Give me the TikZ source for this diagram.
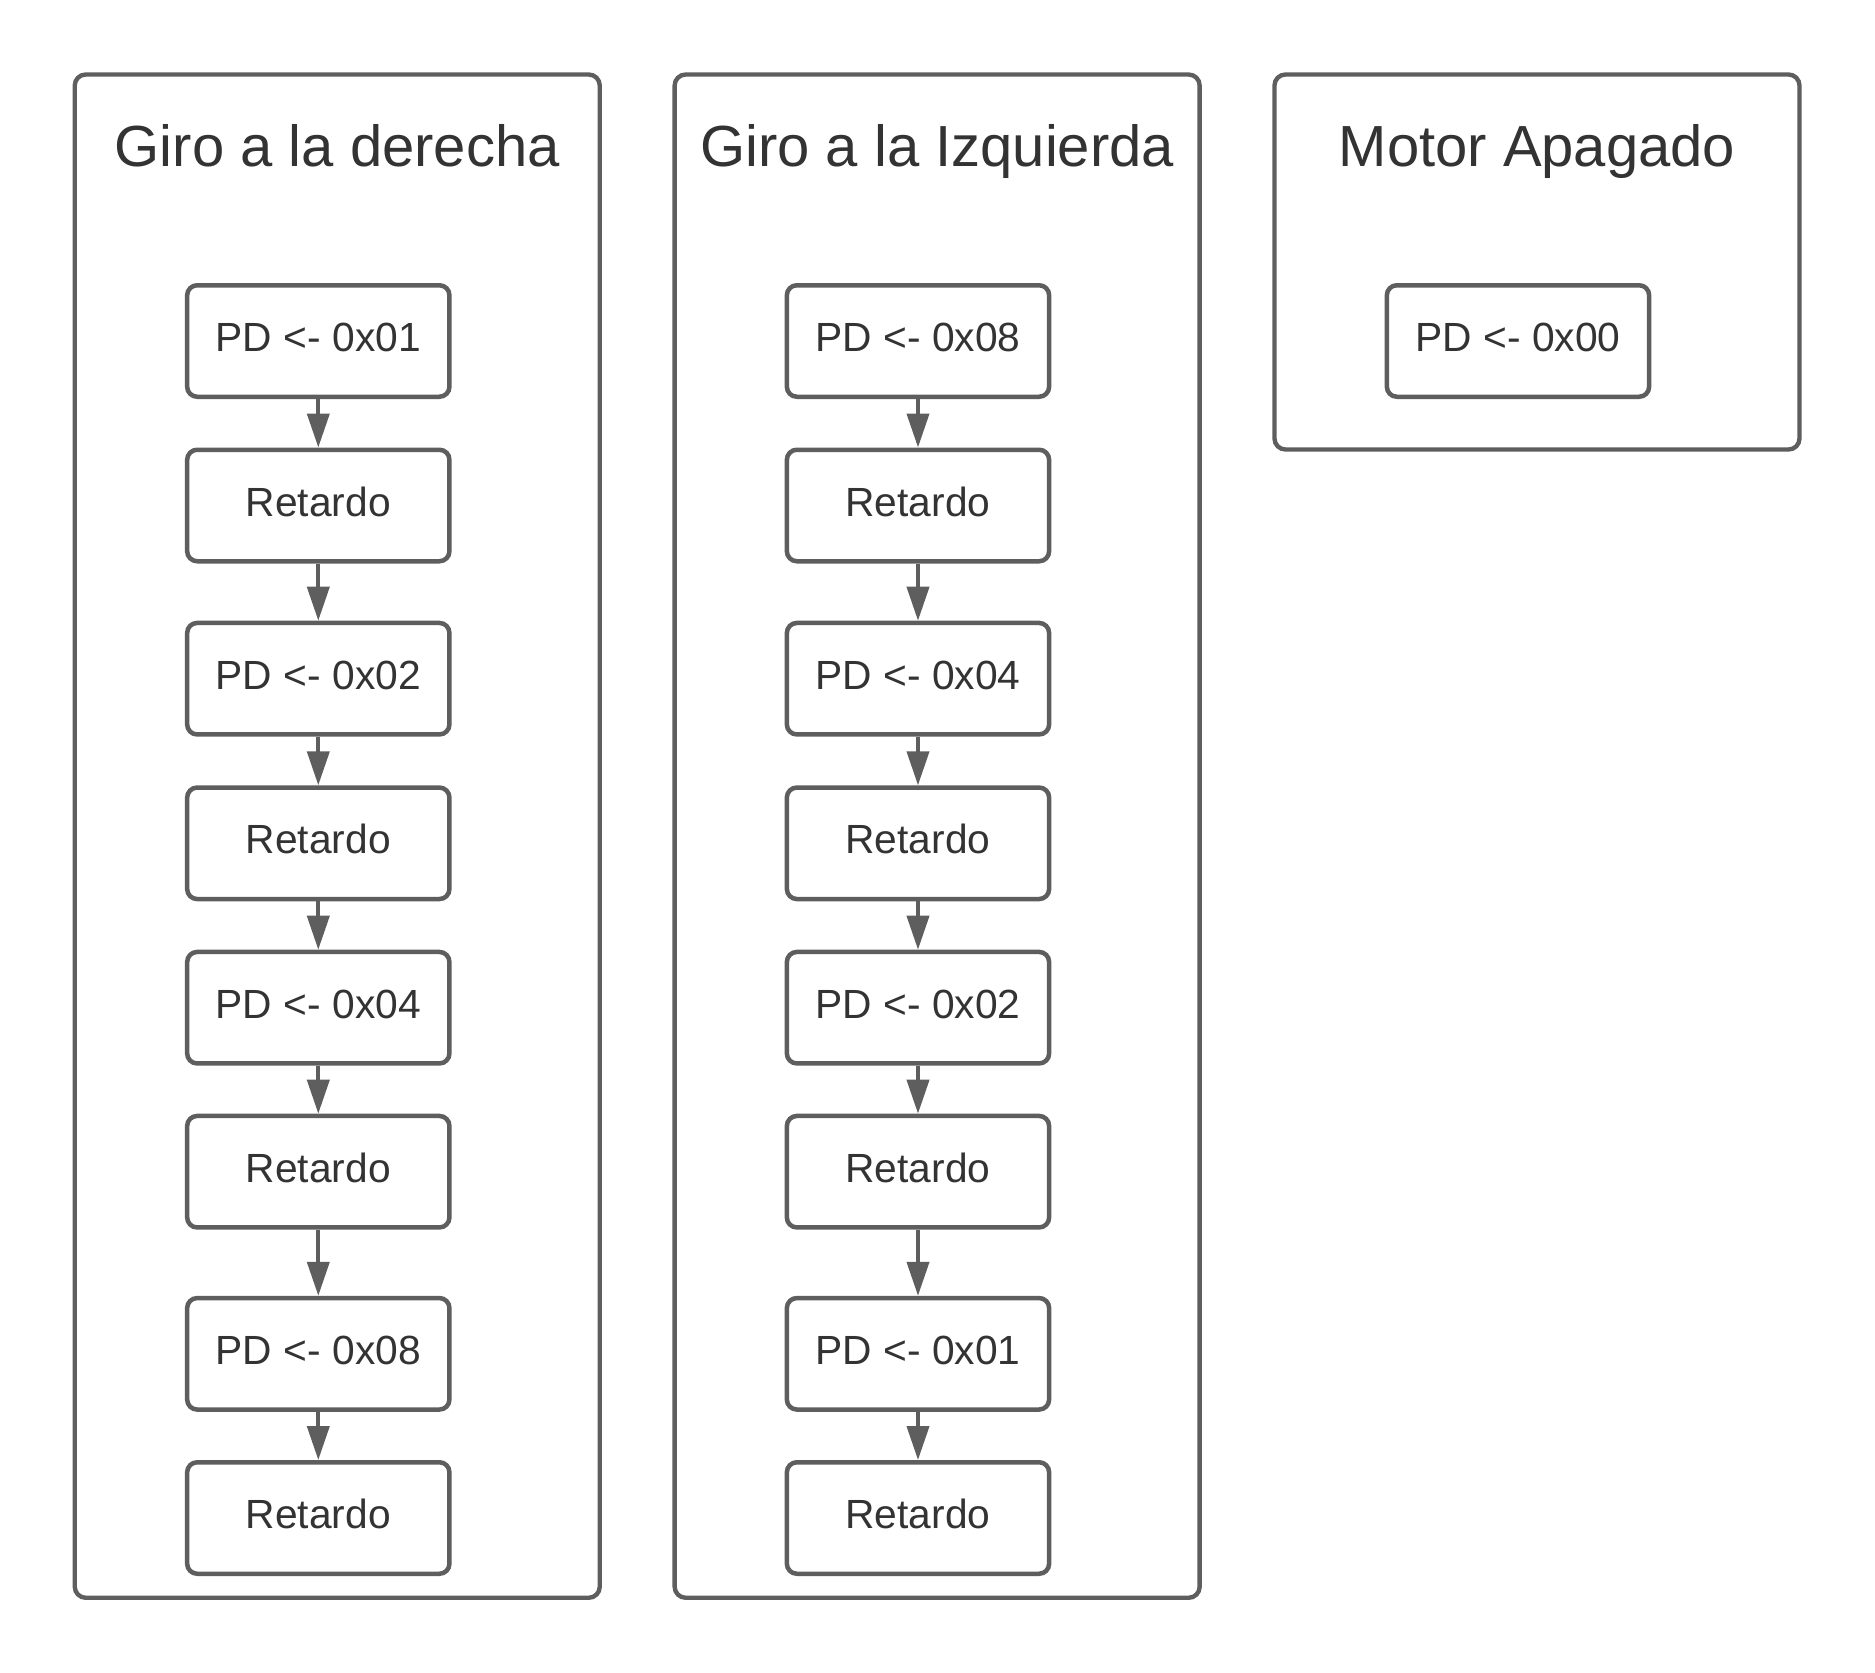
\documentclass[tikz,border=0pt]{standalone}
\usepackage{fontspec}
\setmainfont{Liberation Sans}
\usetikzlibrary{arrows.meta}
\definecolor{linegray}{HTML}{5E5E5E}
\definecolor{textgray}{HTML}{333333}
\tikzset{
  container/.style={draw=linegray, line width=1.75pt, rounded corners=4.4pt,
    minimum width=210pt, inner sep=0pt, fill=white},
  stepbox/.style={draw=linegray, line width=1.8pt, rounded corners=4pt,
    minimum width=104.9pt, minimum height=44.6pt, inner sep=0pt,
    text=textgray, font=\fontsize{16.3pt}{19pt}\selectfont,
    text height=12pt, text depth=3.6pt, fill=white},
  title/.style={anchor=base, inner sep=0pt, text=textgray,
    font=\fontsize{23.2pt}{28pt}\selectfont},
  arr/.style={draw=linegray, line width=1.6pt,
    -{Triangle[length=13.6pt, width=8.8pt]}},
}
\begin{document}
\begin{tikzpicture}[x=0.4pt, y=-0.4pt]
\useasboundingbox (0,0) rectangle (1875,1673);
% containers
\node[container, minimum height=609.3pt] (c1) at (337.25,836.15) {};
\node[container, minimum height=609.3pt] (c2) at (937.15,836.15) {};
\node[container, minimum height=150pt] (c3) at (1537,262) {};
% titles
\node[title] (t1) at (337.25,166) {Giro a la derecha};
\node[title] (t2) at (937.15,166) {Giro a la Izquierda};
\node[title] (t3) at (1537,166) {Motor Apagado};
% column 1
\node[stepbox] (a1) at (318.3,341)    {PD <- 0x01};
\node[stepbox] (a2) at (318.3,505.5)  {Retardo};
\node[stepbox] (a3) at (318.3,678.7)  {PD <- 0x02};
\node[stepbox] (a4) at (318.3,843.3)  {Retardo};
\node[stepbox] (a5) at (318.3,1007.7) {PD <- 0x04};
\node[stepbox] (a6) at (318.3,1171.7) {Retardo};
\node[stepbox] (a7) at (318.3,1353.8) {PD <- 0x08};
\node[stepbox] (a8) at (318.3,1518)   {Retardo};
% column 2
\node[stepbox] (b1) at (918,341)    {PD <- 0x08};
\node[stepbox] (b2) at (918,505.5)  {Retardo};
\node[stepbox] (b3) at (918,678.7)  {PD <- 0x04};
\node[stepbox] (b4) at (918,843.3)  {Retardo};
\node[stepbox] (b5) at (918,1007.7) {PD <- 0x02};
\node[stepbox] (b6) at (918,1171.7) {Retardo};
\node[stepbox] (b7) at (918,1353.8) {PD <- 0x01};
\node[stepbox] (b8) at (918,1518)   {Retardo};
% column 3
\node[stepbox] (m1) at (1518,341) {PD <- 0x00};
% arrows
\foreach \p/\q in {a1/a2,a2/a3,a3/a4,a4/a5,a5/a6,a6/a7,a7/a8,
                   b1/b2,b2/b3,b3/b4,b4/b5,b5/b6,b6/b7,b7/b8}
  \draw[arr] (\p.south) -- (\q.north);
\end{tikzpicture}
\end{document}
